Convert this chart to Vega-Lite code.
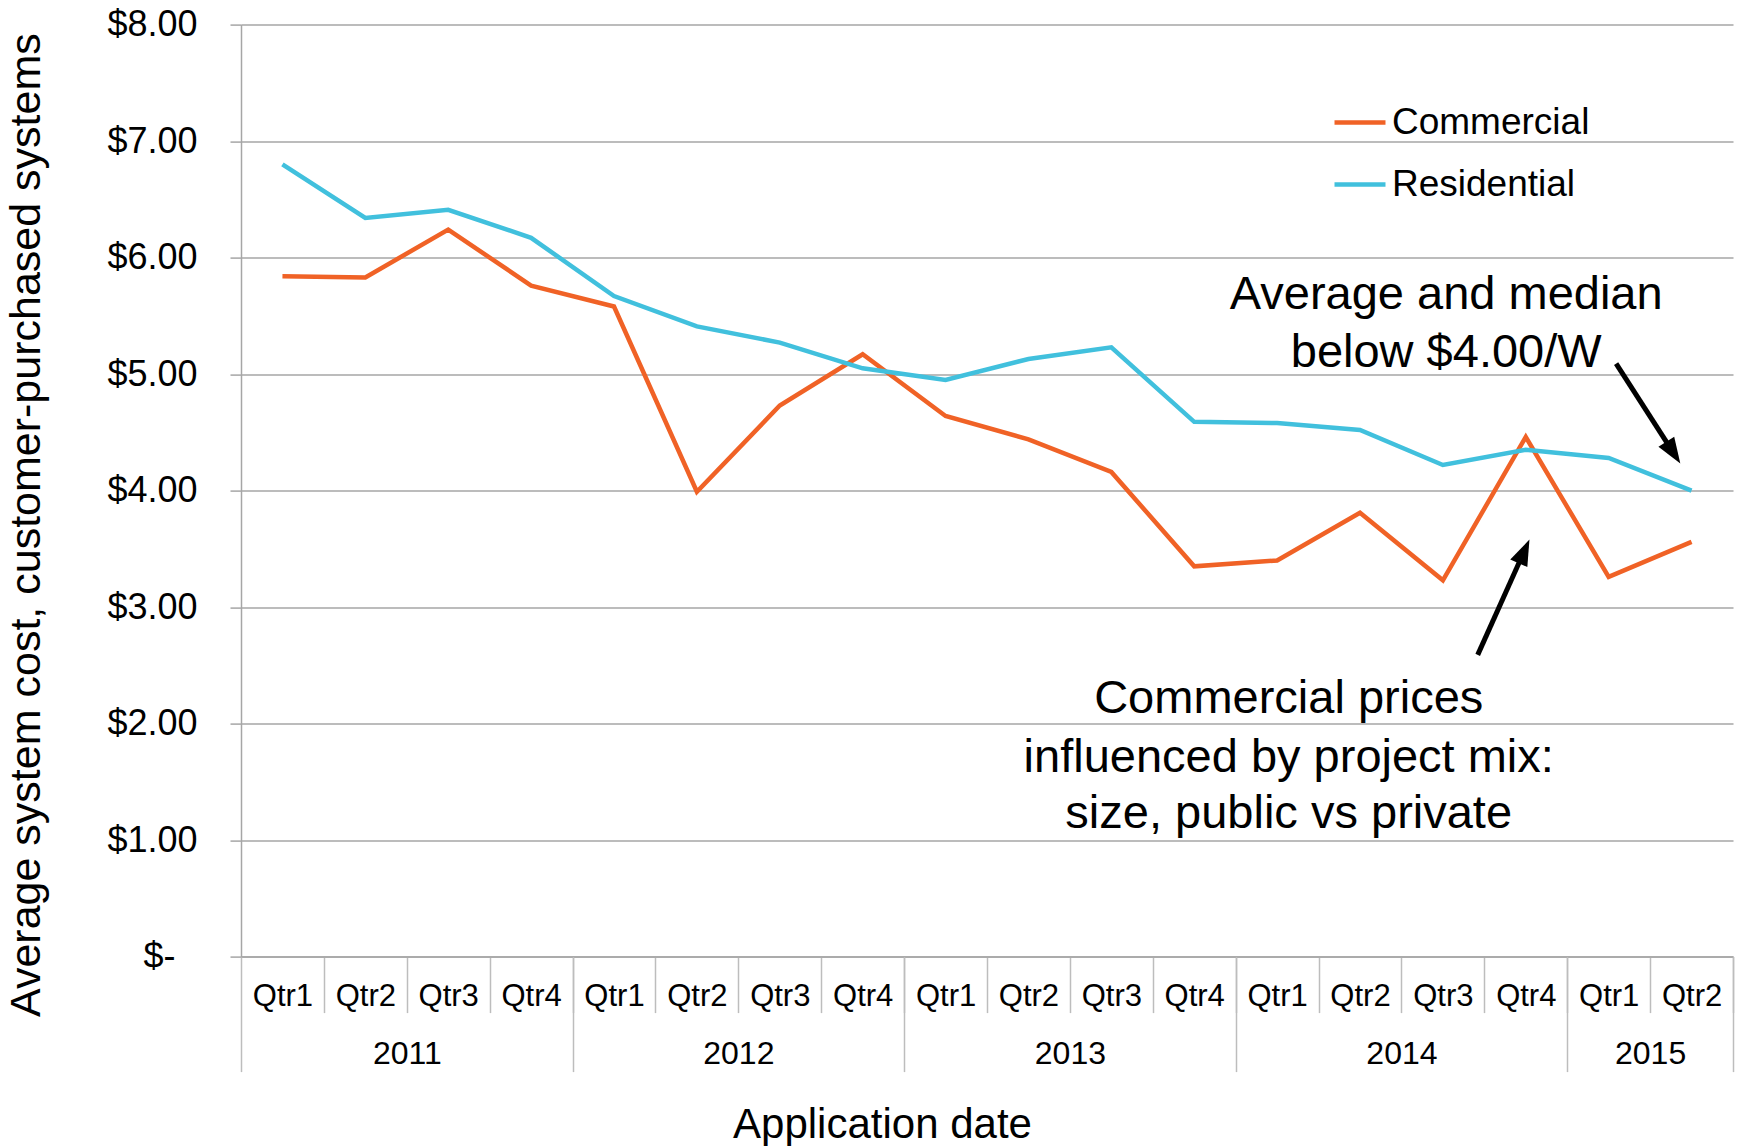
{
  "$schema": "https://vega.github.io/schema/vega-lite/v6.json",
  "width": 1492,
  "height": 932,
  "autosize": {"type": "none"},
  "padding": {"left": 241, "top": 24.6, "right": 7, "bottom": 189.4},
  "background": "white",
  "config": {
    "font": "Liberation Sans",
    "view": {"stroke": null},
    "axis": {"labelFont": "Liberation Sans", "titleFont": "Liberation Sans", "labelColor": "#000000", "titleColor": "#000000"},
    "legend": {"labelFont": "Liberation Sans"}
  },
  "datasets": {
    "prices": [
      {"t": 1, "year": 2011, "quarter": "Qtr1", "series": "Commercial", "cost": 5.84},
      {"t": 2, "year": 2011, "quarter": "Qtr2", "series": "Commercial", "cost": 5.83},
      {"t": 3, "year": 2011, "quarter": "Qtr3", "series": "Commercial", "cost": 6.24},
      {"t": 4, "year": 2011, "quarter": "Qtr4", "series": "Commercial", "cost": 5.76},
      {"t": 5, "year": 2012, "quarter": "Qtr1", "series": "Commercial", "cost": 5.58},
      {"t": 6, "year": 2012, "quarter": "Qtr2", "series": "Commercial", "cost": 3.99},
      {"t": 7, "year": 2012, "quarter": "Qtr3", "series": "Commercial", "cost": 4.73},
      {"t": 8, "year": 2012, "quarter": "Qtr4", "series": "Commercial", "cost": 5.17},
      {"t": 9, "year": 2013, "quarter": "Qtr1", "series": "Commercial", "cost": 4.64},
      {"t": 10, "year": 2013, "quarter": "Qtr2", "series": "Commercial", "cost": 4.44},
      {"t": 11, "year": 2013, "quarter": "Qtr3", "series": "Commercial", "cost": 4.16},
      {"t": 12, "year": 2013, "quarter": "Qtr4", "series": "Commercial", "cost": 3.35},
      {"t": 13, "year": 2014, "quarter": "Qtr1", "series": "Commercial", "cost": 3.40},
      {"t": 14, "year": 2014, "quarter": "Qtr2", "series": "Commercial", "cost": 3.81},
      {"t": 15, "year": 2014, "quarter": "Qtr3", "series": "Commercial", "cost": 3.23},
      {"t": 16, "year": 2014, "quarter": "Qtr4", "series": "Commercial", "cost": 4.46},
      {"t": 17, "year": 2015, "quarter": "Qtr1", "series": "Commercial", "cost": 3.26},
      {"t": 18, "year": 2015, "quarter": "Qtr2", "series": "Commercial", "cost": 3.56},
      {"t": 1, "year": 2011, "quarter": "Qtr1", "series": "Residential", "cost": 6.80},
      {"t": 2, "year": 2011, "quarter": "Qtr2", "series": "Residential", "cost": 6.34},
      {"t": 3, "year": 2011, "quarter": "Qtr3", "series": "Residential", "cost": 6.41},
      {"t": 4, "year": 2011, "quarter": "Qtr4", "series": "Residential", "cost": 6.17},
      {"t": 5, "year": 2012, "quarter": "Qtr1", "series": "Residential", "cost": 5.67},
      {"t": 6, "year": 2012, "quarter": "Qtr2", "series": "Residential", "cost": 5.41},
      {"t": 7, "year": 2012, "quarter": "Qtr3", "series": "Residential", "cost": 5.27},
      {"t": 8, "year": 2012, "quarter": "Qtr4", "series": "Residential", "cost": 5.05},
      {"t": 9, "year": 2013, "quarter": "Qtr1", "series": "Residential", "cost": 4.95},
      {"t": 10, "year": 2013, "quarter": "Qtr2", "series": "Residential", "cost": 5.13},
      {"t": 11, "year": 2013, "quarter": "Qtr3", "series": "Residential", "cost": 5.23},
      {"t": 12, "year": 2013, "quarter": "Qtr4", "series": "Residential", "cost": 4.59},
      {"t": 13, "year": 2014, "quarter": "Qtr1", "series": "Residential", "cost": 4.58},
      {"t": 14, "year": 2014, "quarter": "Qtr2", "series": "Residential", "cost": 4.52},
      {"t": 15, "year": 2014, "quarter": "Qtr3", "series": "Residential", "cost": 4.22},
      {"t": 16, "year": 2014, "quarter": "Qtr4", "series": "Residential", "cost": 4.35},
      {"t": 17, "year": 2015, "quarter": "Qtr1", "series": "Residential", "cost": 4.28},
      {"t": 18, "year": 2015, "quarter": "Qtr2", "series": "Residential", "cost": 4.00}
    ],
    "notes": [
      {"t": 15.04, "cost": 5.556, "text": "Average and median"},
      {"t": 15.04, "cost": 5.058, "text": "below $4.00/W"},
      {"t": 13.14, "cost": 2.088, "text": "Commercial prices"},
      {"t": 13.14, "cost": 1.587, "text": "influenced by project mix:"},
      {"t": 13.14, "cost": 1.101, "text": "size, public vs private"}
    ],
    "arrows": [
      {"t": 17.09, "cost": 5.09, "t2": 17.78, "cost2": 4.326},
      {"t": 15.42, "cost": 2.59, "t2": 15.98, "cost2": 3.478}
    ],
    "head1": [{"t": 17.78, "cost": 4.326}],
    "head2": [{"t": 15.98, "cost": 3.478}]
  },
  "layer": [
    {
      "data": {"name": "prices"},
      "mark": {"type": "line", "strokeWidth": 4.5},
      "encoding": {
        "x": {
          "field": "t", "type": "quantitative",
          "scale": {"domain": [0.5, 18.5], "nice": false, "zero": false},
          "axis": {
            "orient": "bottom",
            "values": [1.5, 2.5, 3.5, 4.5, 5.5, 6.5, 7.5, 8.5, 9.5, 10.5, 11.5, 12.5, 13.5, 14.5, 15.5, 16.5, 17.5, 18.5],
            "title": null,
            "grid": false,
            "domain": true, "domainColor": "#a6a6a6", "domainWidth": 1.5,
            "ticks": true, "tickSize": 56, "tickColor": "#bdbdbd", "tickWidth": 1.5,
            "labelExpr": "'Qtr' + (((datum.value - 1.5) % 4) + 1)",
            "labelOffset": -41.45,
            "labelPadding": -7,
            "labelBaseline": "alphabetic",
            "labelFontSize": 31,
            "labelOverlap": false, "labelFlush": false, "labelBound": false
          }
        },
        "y": {
          "field": "cost", "type": "quantitative",
          "scale": {"domain": [0, 8], "nice": false, "zero": true},
          "axis": {
            "orient": "left",
            "values": [0, 1, 2, 3, 4, 5, 6, 7, 8],
            "title": "Average system cost, customer-purchased systems",
            "titleFontSize": 43, "titleFontWeight": "normal",
            "titleX": -202, "titleY": 500, "titleBaseline": "alphabetic", "titleAlign": "center", "titleAngle": 270,
            "grid": true, "gridColor": "#a6a6a6", "gridWidth": 1.5,
            "domain": true, "domainColor": "#a6a6a6", "domainWidth": 1.5,
            "ticks": true, "tickSize": 11, "tickColor": "#a6a6a6", "tickWidth": 1.5,
            "labelFontSize": 36,
            "labelPadding": {"condition": {"test": "datum.value == 0", "value": 55}, "value": 33},
            "labelExpr": "datum.value == 0 ? '$-' : '$' + format(datum.value, '.2f')",
            "labelOverlap": false, "labelFlush": false
          }
        },
        "color": {
          "field": "series", "type": "nominal",
          "scale": {"domain": ["Commercial", "Residential"], "range": ["#F06226", "#41C0DD"]},
          "legend": {
            "orient": "none", "legendX": 1091, "legendY": 70,
            "title": null,
            "symbolType": "stroke", "symbolSize": 2600, "symbolStrokeWidth": 4.5,
            "labelFontSize": 37, "labelColor": "#000000", "labelOffset": 4, "labelLimit": 0,
            "rowPadding": 16, "padding": 0
          }
        }
      }
    },
    {
      "data": {"name": "notes"},
      "mark": {"type": "text", "fontSize": 47, "align": "center", "baseline": "alphabetic", "color": "#000000", "font": "Liberation Sans"},
      "encoding": {
        "x": {
          "field": "t", "type": "quantitative",
          "axis": {
            "orient": "bottom",
            "values": [0.5, 4.5, 8.5, 12.5, 16.5, 18.5],
            "title": "Application date",
            "titleFontSize": 42, "titleFontWeight": "normal",
            "titleX": 641, "titleY": 181, "titleBaseline": "alphabetic", "titleAlign": "center",
            "grid": false,
            "domain": false,
            "ticks": true, "tickSize": 115, "tickColor": "#bdbdbd", "tickWidth": 1.5,
            "labelExpr": "datum.value < 18 ? '' + (2011 + (datum.value - 0.5) / 4) : ''",
            "labelOffset": {"condition": {"test": "datum.value == 16.5", "value": 82.9}, "value": 165.8},
            "labelPadding": -8,
            "labelBaseline": "alphabetic",
            "labelFontSize": 32,
            "labelOverlap": false, "labelFlush": false, "labelBound": false
          }
        },
        "y": {"field": "cost", "type": "quantitative", "axis": null},
        "text": {"field": "text", "type": "nominal"}
      }
    },
    {
      "data": {"name": "arrows"},
      "mark": {"type": "rule", "strokeWidth": 5, "color": "#000000"},
      "encoding": {
        "x": {"field": "t", "type": "quantitative", "axis": null},
        "y": {"field": "cost", "type": "quantitative", "axis": null},
        "x2": {"field": "t2"},
        "y2": {"field": "cost2"}
      }
    },
    {
      "data": {"name": "head1"},
      "mark": {"type": "point", "shape": "M0,-1L0.72,1L-0.72,1Z", "filled": true, "color": "#000000", "opacity": 1, "size": 676, "angle": 147.4, "strokeWidth": 0},
      "encoding": {
        "x": {"field": "t", "type": "quantitative", "axis": null},
        "y": {"field": "cost", "type": "quantitative", "axis": null}
      }
    },
    {
      "data": {"name": "head2"},
      "mark": {"type": "point", "shape": "M0,-1L0.72,1L-0.72,1Z", "filled": true, "color": "#000000", "opacity": 1, "size": 676, "angle": 24.2, "strokeWidth": 0},
      "encoding": {
        "x": {"field": "t", "type": "quantitative", "axis": null},
        "y": {"field": "cost", "type": "quantitative", "axis": null}
      }
    }
  ],
  "resolve": {"axis": {"x": "independent", "y": "independent"}}
}
